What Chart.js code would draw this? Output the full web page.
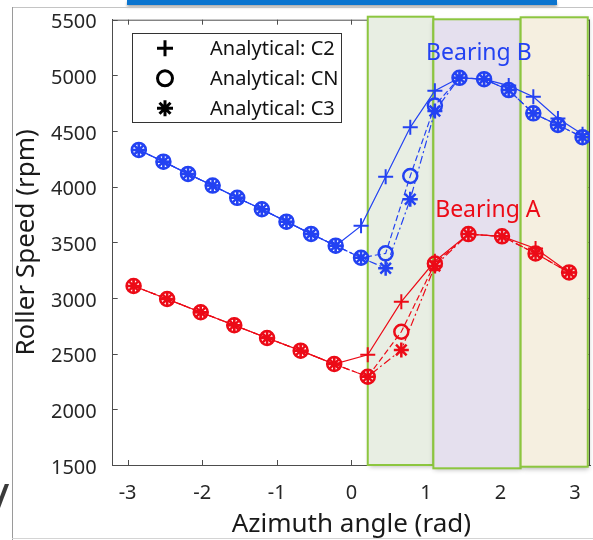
<!DOCTYPE html>
<html>
<head>
<meta charset="utf-8">
<title>Roller speed vs azimuth angle</title>
<script src="https://cdn.jsdelivr.net/npm/chart.js@4.4.1/dist/chart.umd.min.js"></script>
<style>
    html, body { margin: 0; padding: 0; overflow: hidden; background: #fff; }
    #wrap { position: relative; width: 600px; height: 540px; }
    #speedChart { position: absolute; left: 0; top: 0; }
    #topBar { position: absolute; left: 127px; top: 0; width: 430px; height: 5px; background: #0a74cf; box-shadow: 0 2px 3px rgba(0, 0, 0, 0.35); }
    #topLine { position: absolute; left: 12px; top: 7px; right: 0; height: 1px; background: #c4c4c4; }
    #leftLine { position: absolute; left: 12px; top: 7px; bottom: 0; width: 1px; background: #9a9a9a; }
    #bottomLine { position: absolute; left: 12px; right: 0; top: 538px; height: 1px; background: #d4d4d4; }
    #slash { position: absolute; left: 0; top: 468px; width: 12px; height: 60px; overflow: hidden; }
    #slash span { position: absolute; left: -9px; top: -2px; font: 50px "Noto Sans", sans-serif; color: #3a3a3a; }
</style>
</head>
<body>
<div id="wrap">
    <canvas id="speedChart" width="600" height="540"></canvas>
    <div id="topBar"></div>
    <div id="topLine"></div>
    <div id="leftLine"></div>
    <div id="bottomLine"></div>
    <div id="slash"><span>/</span></div>
</div>
<script>
// Bearing A (red): 14 azimuth positions
var angleA = [-2.92, -2.47, -2.02, -1.57, -1.13, -0.68, -0.23, 0.22, 0.67, 1.12, 1.57, 2.02, 2.47, 2.92];
var speedA_C2 = [3108, 2991, 2872, 2755, 2641, 2527, 2407, 2490, 2967, 3330, 3574, 3554, 3445, 3230];
var speedA_CN = [3108, 2991, 2872, 2755, 2641, 2527, 2407, 2293, 2697, 3310, 3574, 3554, 3400, 3230];
var speedA_C3 = [3108, 2991, 2872, 2755, 2641, 2527, 2407, 2293, 2533, 3288, 3574, 3554, 3400, 3230];

// Bearing B (blue): 19 azimuth positions
var angleB = [-2.85, -2.52, -2.19, -1.86, -1.53, -1.20, -0.87, -0.54, -0.21, 0.13, 0.46, 0.79, 1.12, 1.45, 1.78, 2.11, 2.44, 2.77, 3.10];
var speedB_C2 = [4330, 4225, 4115, 4010, 3900, 3797, 3686, 3576, 3470, 3648, 4090, 4533, 4862, 4978, 4966, 4908, 4808, 4612, 4470];
var speedB_CN = [4330, 4225, 4115, 4010, 3900, 3797, 3686, 3576, 3470, 3362, 3401, 4096, 4730, 4978, 4966, 4868, 4659, 4554, 4445];
var speedB_C3 = [4330, 4225, 4115, 4010, 3900, 3797, 3686, 3576, 3470, 3362, 3267, 3887, 4680, 4978, 4966, 4868, 4659, 4554, 4445];

var xTicks = [-3, -2, -1, 0, 1, 2, 3];
var yTicks = [1500, 2000, 2500, 3000, 3500, 4000, 4500, 5000, 5500];

var legendLabels = ['Analytical: C2', 'Analytical: CN', 'Analytical: C3'];
var legendStyles = ['cross', 'circle', 'star'];

// shaded zones along the azimuth (rad)
var zoneEdges = [0.22, 1.10, 2.27, 3.17];
var zoneFills = ['#e8eee3', '#e5e0ee', '#f5efe0'];

var bearingNames = ['Bearing B', 'Bearing A'];
var bearingNameX = [1.71, 1.83];
var bearingNameY = [5198, 3790];

var BLUE = '#2342f2',
    RED = '#ec0b17';

function toPoints(xs, ys) {
    return xs.map(function (x, i) { return { x: x, y: ys[i] }; });
}

function series(label, xs, ys, color, style, dash) {
    return {
        label: label,
        data: toPoints(xs, ys),
        borderColor: color,
        backgroundColor: 'rgba(0,0,0,0)',
        borderWidth: 1.2,
        borderDash: dash,
        pointStyle: style,
        pointRadius: style === 'circle' ? 7 : 7.5,
        pointBorderWidth: style === 'cross' ? 2 : 2.5,
        pointBorderColor: color,
        pointBackgroundColor: 'rgba(0,0,0,0)',
        tension: 0,
        fill: false
    };
}

function drawMarker(ctx, style, x, y) {
    ctx.beginPath();
    if (style === 'circle') {
        ctx.arc(x, y, 7.5, 0, Math.PI * 2);
    } else {
        ctx.moveTo(x - 8, y); ctx.lineTo(x + 8, y);
        ctx.moveTo(x, y - 8); ctx.lineTo(x, y + 8);
        if (style === 'star') {
            ctx.moveTo(x - 5.5, y - 5.5); ctx.lineTo(x + 5.5, y + 5.5);
            ctx.moveTo(x - 5.5, y + 5.5); ctx.lineTo(x + 5.5, y - 5.5);
        }
    }
    ctx.stroke();
}

var framePlugin = {
    id: 'speedFrame',
    beforeDatasetsDraw: function (chart) {
        var ctx = chart.ctx, area = chart.chartArea,
            xs = chart.scales.x, ys = chart.scales.y;
        ctx.save();
        ctx.strokeStyle = '#4d4d4d';
        ctx.lineWidth = 1;
        ctx.beginPath();
        ctx.moveTo(area.left, area.top + 0.5); ctx.lineTo(area.right, area.top + 0.5);
        ctx.moveTo(area.right - 0.5, area.top); ctx.lineTo(area.right - 0.5, area.bottom);
        xTicks.forEach(function (v) {
            var px = Math.round(xs.getPixelForValue(v)) + 0.5;
            ctx.moveTo(px, area.bottom); ctx.lineTo(px, area.bottom - 5);
            ctx.moveTo(px, area.top); ctx.lineTo(px, area.top + 5);
        });
        yTicks.forEach(function (v) {
            var py = Math.round(ys.getPixelForValue(v)) + 0.5;
            ctx.moveTo(area.left, py); ctx.lineTo(area.left + 5, py);
            ctx.moveTo(area.right, py); ctx.lineTo(area.right - 5, py);
        });
        ctx.stroke();

        // zones: small offsets so the boxes sit a bit off the frame like the original
        var topInset = [-3, -0.4, -2.4], bottomInset = [0, 3.3, 1.7];
        for (var i = 0; i < zoneFills.length; i++) {
            var x0 = xs.getPixelForValue(zoneEdges[i]),
                x1 = xs.getPixelForValue(zoneEdges[i + 1]),
                y0 = area.top + topInset[i],
                y1 = area.bottom + bottomInset[i];
            ctx.save();
            ctx.shadowColor = 'rgba(0,0,0,0.3)';
            ctx.shadowBlur = 5;
            ctx.shadowOffsetX = 1;
            ctx.shadowOffsetY = 2;
            ctx.fillStyle = zoneFills[i];
            ctx.fillRect(x0, y0, x1 - x0, y1 - y0);
            ctx.restore();
            ctx.strokeStyle = '#8cc63f';
            ctx.lineWidth = 2;
            ctx.strokeRect(x0, y0, x1 - x0, y1 - y0);
        }
        ctx.restore();
    },
    afterDatasetsDraw: function (chart) {
        var ctx = chart.ctx, area = chart.chartArea,
            xs = chart.scales.x, ys = chart.scales.y;
        ctx.save();
        // legend box
        var lx = area.left + 19.6, ly = area.top + 13.3;
        ctx.fillStyle = '#fff';
        ctx.fillRect(lx, ly, 209, 89);
        ctx.strokeStyle = '#333';
        ctx.lineWidth = 1;
        ctx.strokeRect(Math.round(lx) + 0.5, Math.round(ly) + 0.5, 209, 89);
        ctx.font = '20px "Noto Sans", sans-serif';
        ctx.textBaseline = 'middle';
        ctx.textAlign = 'left';
        for (var i = 0; i < legendLabels.length; i++) {
            var rowY = ly + 15.3 + i * 30;
            ctx.strokeStyle = '#000';
            ctx.lineWidth = 3;
            drawMarker(ctx, legendStyles[i], lx + 32.7, rowY);
            ctx.fillStyle = '#111';
            ctx.fillText(legendLabels[i], lx + 77.7, rowY + 1);
        }
        // bearing names
        ctx.font = '23px "Noto Sans", sans-serif';
        ctx.textAlign = 'center';
        var nameColors = [BLUE, RED];
        for (var j = 0; j < bearingNames.length; j++) {
            ctx.fillStyle = nameColors[j];
            ctx.fillText(bearingNames[j], xs.getPixelForValue(bearingNameX[j]), ys.getPixelForValue(bearingNameY[j]));
        }
        ctx.restore();
    }
};

Chart.defaults.font.family = '"Noto Sans", "Open Sans", sans-serif';

function plainLabel(value) {
    return String(value);
}

var ctx = document.getElementById('speedChart').getContext('2d');
var speedChart = new Chart(ctx, {
    type: 'line',
    data: {
        datasets: [
            series('Bearing B C2', angleB, speedB_C2, BLUE, 'cross', []),
            series('Bearing B CN', angleB, speedB_CN, BLUE, 'circle', [6, 3]),
            series('Bearing B C3', angleB, speedB_C3, BLUE, 'star', [8, 3, 2, 3]),
            series('Bearing A C2', angleA, speedA_C2, RED, 'cross', []),
            series('Bearing A CN', angleA, speedA_CN, RED, 'circle', [6, 3]),
            series('Bearing A C3', angleA, speedA_C3, RED, 'star', [8, 3, 2, 3])
        ]
    },
    options: {
        responsive: false,
        animation: false,
        layout: { padding: { top: 19.7, right: 6.2, bottom: 0, left: 0 } },
        plugins: {
            legend: { display: false },
            tooltip: { enabled: false }
        },
        scales: {
            x: {
                type: 'linear',
                min: -3.2,
                max: 3.2,
                afterBuildTicks: function (scale) {
                    scale.ticks = xTicks.map(function (v) { return { value: v }; });
                },
                afterFit: function (scale) { scale.height = 75; },
                grid: { display: false, drawTicks: false },
                border: { display: true, color: '#4d4d4d', width: 1 },
                ticks: { padding: 0, color: '#262626', font: { size: 20, lineHeight: 2.8 }, callback: plainLabel },
                title: {
                    display: true,
                    text: 'Azimuth angle (rad)',
                    color: '#1a1a1a',
                    font: { size: 26, lineHeight: 1.1 },
                    padding: { top: 0, bottom: 0.7 }
                }
            },
            y: {
                min: 1500,
                max: 5500,
                afterBuildTicks: function (scale) {
                    scale.ticks = yTicks.map(function (v) { return { value: v }; });
                },
                afterFit: function (scale) { scale.width = 112.7; },
                grid: { display: false, drawTicks: false },
                border: { display: true, color: '#4d4d4d', width: 1 },
                ticks: { padding: 16, labelOffset: 3, color: '#262626', font: { size: 20, lineHeight: 0.35 }, callback: plainLabel },
                title: {
                    display: true,
                    text: 'Roller Speed (rpm)',
                    color: '#1a1a1a',
                    font: { size: 26, lineHeight: 1.1 },
                    padding: { top: 12.7, bottom: 0 }
                }
            }
        }
    },
    plugins: [framePlugin]
});
</script>
</body>
</html>
